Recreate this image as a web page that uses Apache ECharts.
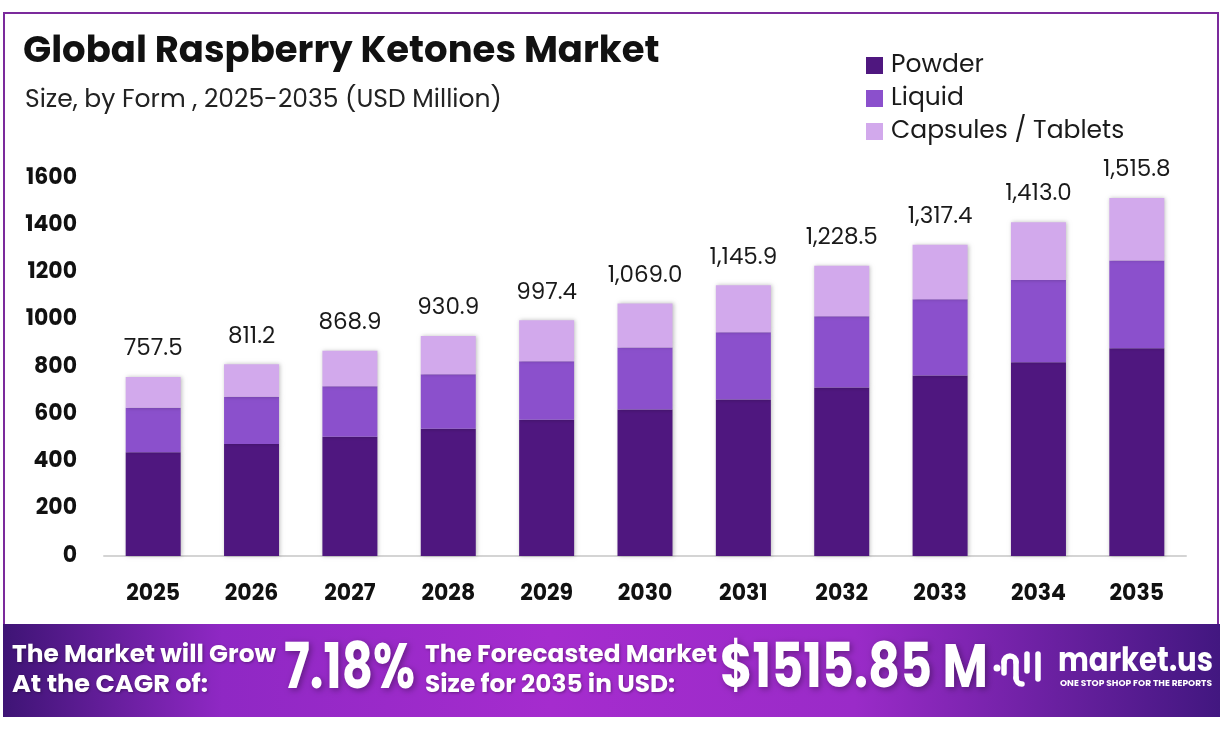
<!DOCTYPE html>
<html>
<head>
<meta charset="utf-8">
<script src="https://cdn.jsdelivr.net/npm/echarts@6/dist/echarts.min.js"></script>
<style>
  html, body { margin: 0; padding: 0; background: #fff; }
  #main { width: 1226px; height: 732px; }
</style>
</head>
<body>
<div id="main"></div>
<script>
const years = ['2025', '2026', '2027', '2028', '2029', '2030', '2031', '2032', '2033', '2034', '2035'];
const powder = [439, 474, 505, 539, 577, 620, 662, 713, 764, 820, 879];
const liquid = [188, 200, 214, 230, 247, 263, 285, 302, 323, 348, 372];
const capsules = [130.5, 137.2, 149.9, 161.9, 173.4, 186.0, 198.9, 213.5, 230.4, 245.0, 264.8];
const totals = ['757.5', '811.2', '868.9', '930.9', '997.4', '1,069.0', '1,145.9', '1,228.5', '1,317.4', '1,413.0', '1,515.8'];
const yTicks = [0, 200, 400, 600, 800, 1000, 1200, 1400, 1600];

const colors = ['#4f177f', '#8b50cc', '#d2a9ec'];
const font = 'Poppins, Inter, sans-serif';

let myChart = echarts.init(document.getElementById('main'));

// squeeze banner text to the widths seen in the picture
const ctx = document.createElement('canvas').getContext('2d');
function squeezed(text, size, x, y, width, shadow) {
  const f = 'bold ' + size + 'px ' + font;
  ctx.font = f;
  const w = ctx.measureText(text).width;
  return {
    type: 'text',
    silent: true,
    x: x,
    y: y,
    scaleX: width / w,
    style: {
      text: text,
      fill: '#fff',
      font: f,
      verticalAlign: 'middle',
      textShadowBlur: shadow,
      textShadowOffsetX: shadow / 3,
      textShadowOffsetY: shadow / 3,
      textShadowColor: 'rgba(0,0,0,0.35)'
    }
  };
}

function barSeries(name, data, idx) {
  return {
    name: name,
    type: 'bar',
    stack: 'total',
    data: data,
    barWidth: 55,
    itemStyle: {
      color: colors[idx],
      shadowBlur: 4,
      shadowColor: 'rgba(0,0,0,0.25)',
      shadowOffsetX: 1
    }
  };
}

let series = [
  barSeries('Powder', powder, 0),
  barSeries('Liquid', liquid, 1),
  barSeries('Capsules / Tablets', capsules, 2)
];
series[2].label = {
  show: true,
  position: 'top',
  distance: 16,
  fontFamily: font,
  fontSize: 23,
  color: '#1a1a1a',
  formatter: function (p) {
    return totals[p.dataIndex];
  }
};

const white = { stroke: '#fff', lineWidth: 5.5, fill: null, lineCap: 'round' };

let option = {
  animation: false,
  backgroundColor: '#fff',
  title: [
    {
      text: 'Global Raspberry Ketones Market',
      left: 18,
      top: 29,
      textStyle: { fontFamily: font, fontSize: 37, fontWeight: 'bold', color: '#111' }
    },
    {
      text: 'Size, by Form , 2025-2035 (USD Million)',
      left: 20,
      top: 83,
      textStyle: { fontFamily: font, fontSize: 25, fontWeight: 'normal', color: '#222' }
    }
  ],
  legend: {
    orient: 'vertical',
    left: 866,
    top: 53,
    padding: 0,
    itemWidth: 17,
    itemHeight: 17,
    itemGap: 8,
    icon: 'rect',
    textStyle: { fontFamily: font, fontSize: 25, color: '#1a1a1a', padding: [0, 0, 0, 3] },
    data: ['Powder', 'Liquid', 'Capsules / Tablets']
  },
  grid: {
    left: 104,
    right: 40,
    top: 178,
    bottom: 176
  },
  xAxis: {
    type: 'category',
    data: years,
    axisLine: { lineStyle: { color: '#d4d4d4', width: 2 } },
    axisTick: { show: false },
    axisLabel: {
      margin: 27,
      fontFamily: font,
      fontSize: 22,
      fontWeight: 'bold',
      color: '#111'
    }
  },
  yAxis: {
    type: 'value',
    min: 0,
    max: 1600,
    interval: 200,
    splitLine: { show: false },
    axisLine: { show: false },
    axisTick: { show: false },
    axisLabel: {
      margin: 27,
      fontFamily: font,
      fontSize: 22,
      fontWeight: 'bold',
      color: '#111',
      formatter: function (v) {
        return yTicks.indexOf(v) >= 0 ? String(v) : '';
      }
    }
  },
  series: series,
  graphic: [
    // outer frame
    {
      type: 'polyline',
      silent: true,
      shape: { points: [[4, 640], [4, 13], [1218, 13], [1218, 640]] },
      style: { stroke: '#7b2a9c', lineWidth: 2, fill: null }
    },
    // bottom banner
    {
      type: 'rect',
      silent: true,
      shape: { x: 3, y: 624, width: 1217, height: 93 },
      style: {
        fill: {
          type: 'linear', x: 0, y: 0, x2: 1, y2: 0,
          colorStops: [
            { offset: 0, color: '#3e1475' },
            { offset: 0.18, color: '#8f28c4' },
            { offset: 0.45, color: '#a52cce' },
            { offset: 0.7, color: '#9a2bc8' },
            { offset: 1, color: '#421780' }
          ]
        }
      }
    },
    squeezed('The Market will Grow', 25, 12, 656, 264, 3),
    squeezed('At the CAGR of:', 25, 12, 686, 196, 3),
    squeezed('7.18%', 64, 284, 672, 131, 6),
    squeezed('The Forecasted Market', 25, 425, 656, 292, 3),
    squeezed('Size for 2035 in USD:', 25, 425, 686, 250, 3),
    squeezed('$1515.85 M', 62, 720, 671, 268, 6),
    // logo mark
    { type: 'circle', silent: true, shape: { cx: 997, cy: 668, r: 3.5 }, style: { fill: '#fff' } },
    { type: 'line', silent: true, shape: { x1: 1004, y1: 662, x2: 1004, y2: 673 }, style: white },
    { type: 'arc', silent: true, shape: { cx: 1010, cy: 662, r: 6, startAngle: Math.PI, endAngle: 2 * Math.PI, clockwise: true }, style: white },
    { type: 'line', silent: true, shape: { x1: 1016, y1: 662, x2: 1016, y2: 678 }, style: white },
    { type: 'arc', silent: true, shape: { cx: 1022, cy: 678, r: 6, startAngle: Math.PI, endAngle: Math.PI / 2, clockwise: false }, style: white },
    { type: 'line', silent: true, shape: { x1: 1027, y1: 654, x2: 1027, y2: 671 }, style: white },
    { type: 'line', silent: true, shape: { x1: 1038, y1: 654, x2: 1038, y2: 679 }, style: white },
    squeezed('market.us', 34, 1058, 662, 155, 0),
    squeezed('ONE STOP SHOP FOR THE REPORTS', 8, 1060, 684, 152, 0)
  ]
};

myChart.setOption(option);
</script>
</body>
</html>
